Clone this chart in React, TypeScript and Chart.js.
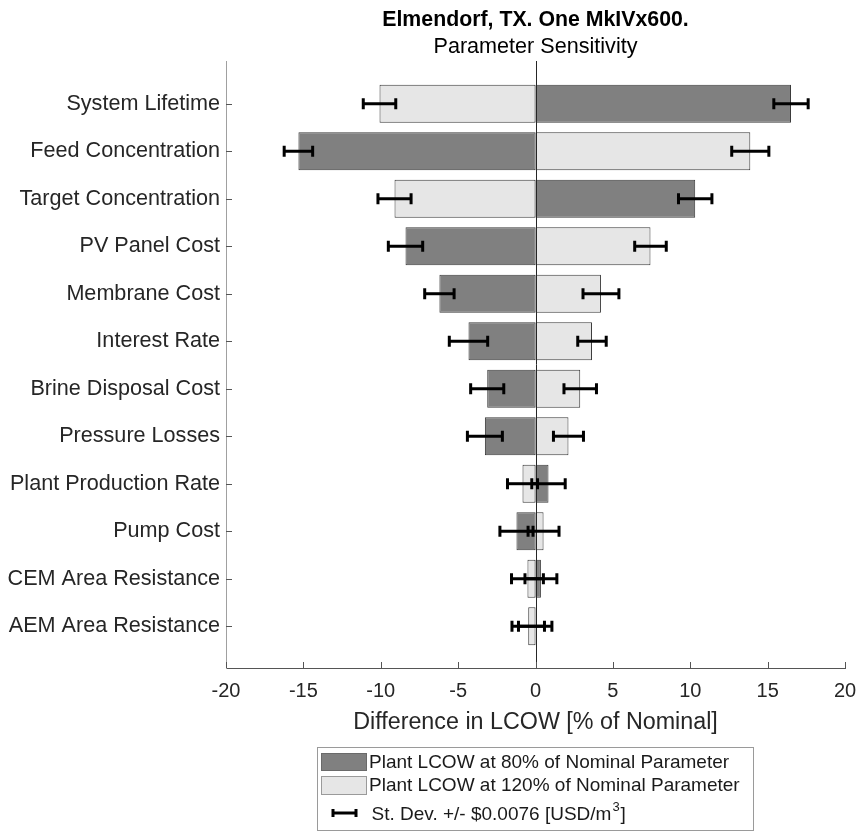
import React, { useEffect, useRef } from "react";
import { Chart, registerables } from "chart.js";

Chart.register(...registerables);

const FONT = '"Liberation Sans", Arial, Helvetica, sans-serif';

const chartTitle = "Elmendorf, TX. One MkIVx600.";
const chartSubtitle = "Parameter Sensitivity";
const xAxisTitle = "Difference in LCOW [% of Nominal]";

const categories = [
  "System Lifetime",
  "Feed Concentration",
  "Target Concentration",
  "PV Panel Cost",
  "Membrane Cost",
  "Interest Rate",
  "Brine Disposal Cost",
  "Pressure Losses",
  "Plant Production Rate",
  "Pump Cost",
  "CEM Area Resistance",
  "AEM Area Resistance",
];

// Plant LCOW at 80% of nominal parameter (% difference)
const at80 = [16.51, -15.32, 10.32, -8.4, -6.21, -4.33, -3.12, -3.27, 0.84, -1.23, 0.35, -0.02];
// Plant LCOW at 120% of nominal parameter (% difference)
const at120 = [-10.08, 13.88, -9.11, 7.43, 4.23, 3.65, 2.89, 2.13, -0.84, 0.52, -0.52, -0.47];
// Error bar half-widths (st. dev.)
const err80 = [1.11, 0.92, 1.08, 1.11, 0.95, 1.24, 1.07, 1.13, 1.08, 1.07, 1.03, 1.08];
const err120 = [1.05, 1.2, 1.07, 1.02, 1.16, 0.92, 1.05, 0.97, 0.97, 1.0, 1.03, 1.05];

const xTickValues = [-20, -15, -10, -5, 0, 5, 10, 15, 20];

const legendLabels = [
  "Plant LCOW at 80% of Nominal Parameter",
  "Plant LCOW at 120% of Nominal Parameter",
  "St. Dev. +/- $0.0076 [USD/m",
];

const DARK = "#808080";
const LIGHT = "#e6e6e6";
const BAR_BORDER = "#3a3a3a";

const overlayPlugin = {
  id: "overlay",
  afterDatasetsDraw(chart: any) {
    const ctx = chart.ctx;
    const xs = chart.scales.x;
    const ys = chart.scales.y;
    const ca = chart.chartArea;
    ctx.save();
    // zero line
    const x0 = Math.round(xs.getPixelForValue(0)) + 0.5;
    ctx.strokeStyle = "#262626";
    ctx.lineWidth = 1;
    ctx.beginPath();
    ctx.moveTo(x0, ca.top);
    ctx.lineTo(x0, ca.bottom);
    ctx.stroke();

    // inner tick marks
    ctx.strokeStyle = "#555555";
    ctx.lineWidth = 1;
    ctx.beginPath();
    xTickValues.forEach((v) => {
      const px = Math.round(xs.getPixelForValue(v)) + 0.5;
      ctx.moveTo(px, ca.bottom);
      ctx.lineTo(px, ca.bottom - 6);
    });
    categories.forEach((_, i) => {
      const py = Math.round(ys.getPixelForValue(i + 1)) + 0.5;
      ctx.moveTo(ca.left, py);
      ctx.lineTo(ca.left + 6, py);
    });
    ctx.stroke();

    // error bars
    const errs = [err80, err120];
    chart.data.datasets.forEach((ds: any, di: number) => {
      ds.data.forEach((pt: any, i: number) => {
        const e = errs[di][i];
        const xa = xs.getPixelForValue(pt.x - e);
        const xb = xs.getPixelForValue(pt.x + e);
        const y = ys.getPixelForValue(pt.y);
        ctx.strokeStyle = "#000";
        ctx.lineWidth = 3;
        ctx.lineCap = "butt";
        ctx.beginPath();
        ctx.moveTo(xa, y);
        ctx.lineTo(xb, y);
        ctx.stroke();
        ctx.beginPath();
        ctx.moveTo(xa, y - 5.5);
        ctx.lineTo(xa, y + 5.5);
        ctx.moveTo(xb, y - 5.5);
        ctx.lineTo(xb, y + 5.5);
        ctx.stroke();
      });
    });
    ctx.restore();
  },
  afterDraw(chart: any) {
    const ctx = chart.ctx;
    const ca = chart.chartArea;
    const cx = (ca.left + ca.right) / 2;
    ctx.save();
    ctx.fillStyle = "#000";
    ctx.textAlign = "center";
    ctx.textBaseline = "alphabetic";
    ctx.font = `bold 21.3px ${FONT}`;
    ctx.fillText(chartTitle, cx, 26);
    ctx.font = `21.6px ${FONT}`;
    ctx.fillText(chartSubtitle, cx, 52.5);

    // x axis title
    ctx.fillStyle = "#262626";
    ctx.font = `23.3px ${FONT}`;
    ctx.fillText(xAxisTitle, cx, 729);

    // legend
    const bx = 317.5, by = 747.5, bw = 436, bh = 83;
    ctx.fillStyle = "#fff";
    ctx.fillRect(bx, by, bw, bh);
    ctx.strokeStyle = "#9a9a9a";
    ctx.lineWidth = 1;
    ctx.strokeRect(bx, by, bw, bh);

    ctx.fillStyle = DARK;
    ctx.fillRect(321.5, 753.5, 45, 17);
    ctx.strokeStyle = "#6a6a6a";
    ctx.strokeRect(321.5, 753.5, 45, 17);
    ctx.fillStyle = LIGHT;
    ctx.fillRect(321.5, 776.5, 45, 18);
    ctx.strokeStyle = "#9a9a9a";
    ctx.strokeRect(321.5, 776.5, 45, 18);

    // error bar icon
    ctx.strokeStyle = "#000";
    ctx.lineWidth = 3;
    ctx.beginPath();
    ctx.moveTo(332, 813);
    ctx.lineTo(357, 813);
    ctx.moveTo(333, 809);
    ctx.lineTo(333, 817);
    ctx.moveTo(356, 809);
    ctx.lineTo(356, 817);
    ctx.stroke();

    ctx.fillStyle = "#1a1a1a";
    ctx.textAlign = "left";
    ctx.font = `19px ${FONT}`;
    ctx.fillText(legendLabels[0], 369, 768);
    ctx.fillText(legendLabels[1], 369, 791);
    ctx.fillText(legendLabels[2], 371.5, 820);
    const w = ctx.measureText(legendLabels[2]).width;
    ctx.font = `13px ${FONT}`;
    ctx.fillText("3", 371.5 + w + 1, 811);
    const w3 = ctx.measureText("3").width;
    ctx.font = `19px ${FONT}`;
    ctx.fillText("]", 371.5 + w + 1 + w3 + 1, 820);
    ctx.restore();
  },
};

export default function App() {
  const canvasRef = useRef<HTMLCanvasElement | null>(null);

  useEffect(() => {
    Chart.defaults.font.family = FONT;
    const canvas = canvasRef.current;
    if (!canvas) return;
    const chart = new Chart(canvas, {
      type: "bar",
      data: {
        datasets: [
          {
            label: "Plant LCOW at 80% of Nominal Parameter",
            data: at80.map((v, i) => ({ x: v, y: i + 1 })),
            backgroundColor: DARK,
            borderColor: BAR_BORDER,
            borderWidth: 1,
            borderSkipped: false,
            grouped: false,
            categoryPercentage: 0.8,
            barPercentage: 1.0,
          } as any,
          {
            label: "Plant LCOW at 120% of Nominal Parameter",
            data: at120.map((v, i) => ({ x: v, y: i + 1 })),
            backgroundColor: LIGHT,
            borderColor: BAR_BORDER,
            borderWidth: 1,
            borderSkipped: false,
            grouped: false,
            categoryPercentage: 0.8,
            barPercentage: 1.0,
          } as any,
        ],
      },
      options: {
        indexAxis: "y",
        animation: false,
        responsive: false,
        maintainAspectRatio: false,
        layout: { padding: { top: 61, right: 13, left: 0, bottom: 0 } },
        plugins: {
          legend: { display: false },
          title: { display: false },
          tooltip: { enabled: false },
        },
        scales: {
          x: {
            type: "linear",
            min: -20,
            max: 20,
            offset: false,
            grid: { display: false, drawTicks: false },
            border: { display: true, color: "#555555", width: 1 },
            ticks: {
              padding: 11,
              color: "#262626",
              font: { size: 20, family: FONT },
              callback: (v: any) => `${v}`,
            },
            afterBuildTicks: (axis: any) => {
              axis.ticks = xTickValues.map((v) => ({ value: v }));
            },
            afterFit: (axis: any) => {
              axis.height = 165;
              axis.paddingLeft = 0;
              axis.paddingRight = 0;
            },
          },
          y: {
            type: "linear",
            reverse: true,
            min: 0.1,
            max: 12.88,
            offset: false,
            grid: { display: false, drawTicks: false, offset: false },
            border: { display: true, color: "#a0a0a0", width: 1 },
            ticks: {
              padding: 6,
              color: "#262626",
              autoSkip: false,
              font: { size: 21.6, family: FONT },
              callback: (v: any) => categories[Math.round(v) - 1] ?? "",
            },
            afterBuildTicks: (axis: any) => {
              axis.ticks = categories.map((_, i) => ({ value: i + 1 }));
            },
            afterFit: (axis: any) => {
              axis.width = 226;
              axis.paddingTop = 0;
              axis.paddingBottom = 0;
            },
          },
        },
      } as any,
      plugins: [overlayPlugin],
    });
    return () => chart.destroy();
  }, []);

  return (
    <div style={{ position: "relative", height: 817 }}>
      <canvas
        ref={canvasRef}
        width={858}
        height={833}
        style={{ position: "fixed", left: 0, top: 0, width: 858, height: 833, display: "block" }}
      />
    </div>
  );
}
